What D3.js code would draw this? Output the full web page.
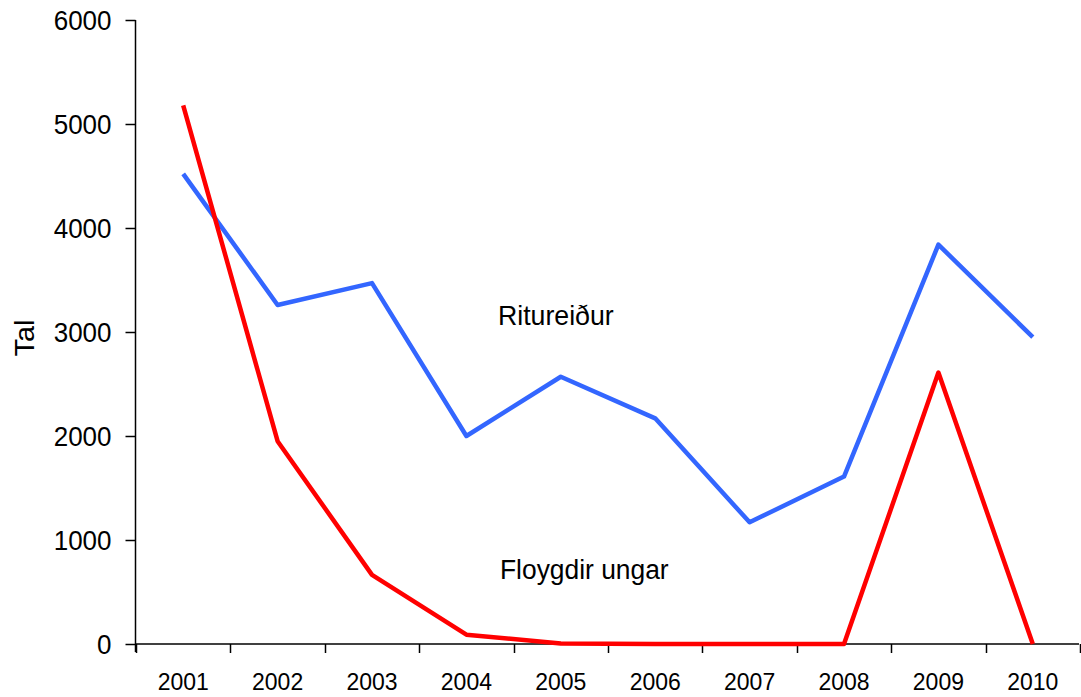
<!DOCTYPE html>
<html>
<head>
<meta charset="utf-8">
<script src="https://cdn.jsdelivr.net/npm/d3@7"></script>
<style>
  body { margin: 0; background: #fff; }
  svg { display: block; font-family: "Liberation Sans", Arial, sans-serif; }
</style>
</head>
<body>
<svg id="chart" width="1081" height="697"></svg>
<script>
const years = ["2001","2002","2003","2004","2005","2006","2007","2008","2009","2010"];
const ritureidur = [4520, 3260, 3470, 2000, 2570, 2170, 1170, 1610, 3840, 2950];
const floygdirUngar = [5180, 1950, 665, 90, 5, 0, 0, 0, 2610, 0];
const yTicks = [0, 1000, 2000, 3000, 4000, 5000, 6000];
const seriesLabels = ["Ritureiður", "Floygdir ungar"];
const yTitle = "Tal";

const svg = d3.select("#chart");
const x = d3.scaleBand().domain(years).range([136, 1080]);
const y = d3.scaleLinear().domain([0, 6000]).range([644, 20]);

// y axis
const yAxis = svg.append("g").attr("transform", "translate(135.5,0)")
  .call(d3.axisLeft(y).tickValues(yTicks).tickSize(10).tickPadding(14).tickFormat(d3.format("d")));
yAxis.select(".domain").attr("stroke", "#000").attr("stroke-width", 1.5).attr("d", "M0,20V652");
yAxis.selectAll(".tick line").attr("stroke", "#000").attr("stroke-width", 1.5);
yAxis.selectAll(".tick text").attr("font-size", 26).attr("fill", "#000")
  .attr("font-family", "Liberation Sans, Arial, sans-serif").attr("dy", "0.34em")
  .attr("transform", "scale(1,1.07)");

// x axis
const xAxis = svg.append("g").attr("transform", "translate(0,644)")
  .call(d3.axisBottom(x).tickSize(0).tickPadding(0));
xAxis.select(".domain").attr("stroke", "#000").attr("stroke-width", 1.5).attr("d", "M136,0H1079");
xAxis.selectAll(".tick text").attr("font-size", 23).attr("fill", "#000")
  .attr("font-family", "Liberation Sans, Arial, sans-serif").attr("y", 43).attr("dy", 0)
  .attr("transform", "scale(1,1.07)");
// category boundary ticks
const bounds = years.map(d => x(d)).concat([x(years[years.length - 1]) + x.bandwidth()]);
svg.append("g").selectAll("line").data(bounds).join("line")
  .attr("x1", d => Math.round(d) + 0.5).attr("x2", d => Math.round(d) + 0.5)
  .attr("y1", 644).attr("y2", 653)
  .attr("stroke", "#000").attr("stroke-width", 1.5);

// y title
svg.append("text").attr("transform", "translate(34,338) rotate(-90) scale(1.07,1)")
  .attr("text-anchor", "middle").attr("font-size", 27).attr("fill", "#000").text(yTitle);

// lines
const line = d3.line().x((d, i) => x(years[i]) + x.bandwidth() / 2).y(d => y(d));
svg.append("path").datum(ritureidur).attr("d", line)
  .attr("fill", "none").attr("stroke", "#3366FF").attr("stroke-width", 4.5).attr("stroke-linejoin", "round");
svg.append("path").datum(floygdirUngar).attr("d", line)
  .attr("fill", "none").attr("stroke", "#FF0000").attr("stroke-width", 4.5).attr("stroke-linejoin", "round");

// series labels
svg.append("text").attr("transform", "translate(498,325) scale(1,1.05)")
  .attr("font-size", 26.7).attr("fill", "#000").text(seriesLabels[0]);
svg.append("text").attr("transform", "translate(500,579) scale(1,1.05)")
  .attr("font-size", 26.4).attr("fill", "#000").text(seriesLabels[1]);
</script>
</body>
</html>
